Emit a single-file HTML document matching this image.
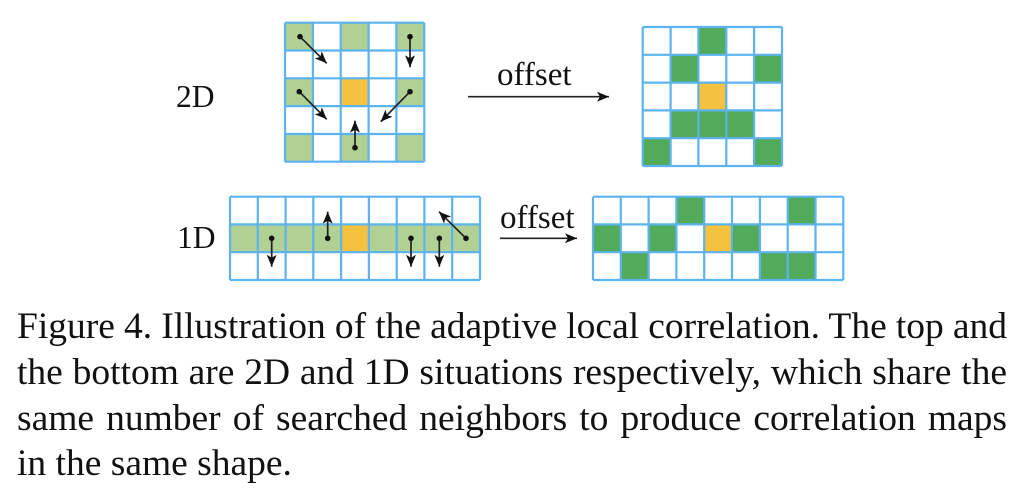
<!DOCTYPE html>
<html><head><meta charset="utf-8"><style>
html,body{margin:0;padding:0;background:#fff;width:1024px;height:493px;overflow:hidden}
svg{display:block;position:absolute;left:0;top:0}
text{font-family:"Liberation Serif",serif;fill:#111}
.c{position:absolute;left:17px;width:990px;font:37.5px/46px "Liberation Serif",serif;color:#111;text-align:justify;text-align-last:justify;word-spacing:-2px}
</style></head><body>
<svg width="1024" height="493" viewBox="0 0 1024 493" xmlns="http://www.w3.org/2000/svg">
<defs>
<marker id="a" viewBox="0 0 12 10" refX="12" refY="5" markerWidth="12" markerHeight="10" markerUnits="userSpaceOnUse" orient="auto"><path d="M0 0L12 5L0 10L3 5Z" fill="#111"/></marker>
</defs>
<g fill="#b0d094">
<rect x="285" y="22.7" width="27.9" height="27.8"/><rect x="340.7" y="22.7" width="27.9" height="27.8"/><rect x="396.4" y="22.7" width="27.9" height="27.8"/>
<rect x="285" y="78.3" width="27.9" height="27.8"/><rect x="396.4" y="78.3" width="27.9" height="27.8"/>
<rect x="285" y="134" width="27.9" height="27.8"/><rect x="340.7" y="134" width="27.9" height="27.8"/><rect x="396.4" y="134" width="27.9" height="27.8"/>
<rect x="230" y="224.4" width="250" height="27.8"/>
</g>
<g fill="#52ab5b">
<rect x="698.4" y="27" width="27.9" height="27.8"/>
<rect x="670.6" y="54.8" width="27.9" height="27.8"/><rect x="754.1" y="54.8" width="27.9" height="27.8"/>
<rect x="670.6" y="110.4" width="83.5" height="27.8"/>
<rect x="642.7" y="138.2" width="27.9" height="27.8"/><rect x="754.1" y="138.2" width="27.9" height="27.8"/>
<rect x="676.4" y="196.7" width="27.8" height="27.7"/><rect x="787.7" y="196.7" width="27.8" height="27.7"/>
<rect x="593" y="224.4" width="27.8" height="27.8"/><rect x="648.6" y="224.4" width="27.8" height="27.8"/><rect x="732" y="224.4" width="27.9" height="27.8"/>
<rect x="620.8" y="252.2" width="27.8" height="27.8"/><rect x="759.9" y="252.2" width="55.6" height="27.8"/>
</g>
<g fill="#f4c23f">
<rect x="340.7" y="78.3" width="27.9" height="27.8"/>
<rect x="698.4" y="82.6" width="27.9" height="27.8"/>
<rect x="341.1" y="224.4" width="27.8" height="27.8"/>
<rect x="704.2" y="224.4" width="27.8" height="27.8"/>
</g>
<g fill="none" stroke="#5cb3ee" stroke-width="2.2">
<path d="M285 22.7H424.3M285 50.5H424.3M285 78.3H424.3M285 106.1H424.3M285 134H424.3M285 161.7H424.3M285 22.7V161.7M312.9 22.7V161.7M340.7 22.7V161.7M368.6 22.7V161.7M396.4 22.7V161.7M424.3 22.7V161.7"/>
<path d="M642.7 27H782M642.7 54.8H782M642.7 82.6H782M642.7 110.4H782M642.7 138.2H782M642.7 166H782M642.7 27V166M670.6 27V166M698.4 27V166M726.3 27V166M754.1 27V166M782 27V166"/>
<path d="M230 196.7H480M230 224.4H480M230 252.2H480M230 280H480M230 196.7V280M257.8 196.7V280M285.6 196.7V280M313.3 196.7V280M341.1 196.7V280M368.9 196.7V280M396.7 196.7V280M424.4 196.7V280M452.2 196.7V280M480 196.7V280"/>
<path d="M593 196.7H843.3M593 224.4H843.3M593 252.2H843.3M593 280H843.3M593 196.7V280M620.8 196.7V280M648.6 196.7V280M676.4 196.7V280M704.2 196.7V280M732 196.7V280M759.9 196.7V280M787.7 196.7V280M815.5 196.7V280M843.3 196.7V280"/>
</g>
<g stroke="#222" stroke-width="1.7" fill="none">
<line x1="300" y1="36.7" x2="326.7" y2="63.3" marker-end="url(#a)"/>
<line x1="410" y1="36.7" x2="410" y2="67.3" marker-end="url(#a)"/>
<line x1="299.3" y1="91.7" x2="326.7" y2="119.3" marker-end="url(#a)"/>
<line x1="410" y1="91.7" x2="380.7" y2="121.7" marker-end="url(#a)"/>
<line x1="355" y1="147.7" x2="355" y2="120.7" marker-end="url(#a)"/>
<line x1="271.7" y1="238.3" x2="271.7" y2="266.7" marker-end="url(#a)"/>
<line x1="327.7" y1="238.3" x2="327.7" y2="211.7" marker-end="url(#a)"/>
<line x1="411" y1="238.3" x2="411" y2="266.7" marker-end="url(#a)"/>
<line x1="439.3" y1="238.3" x2="439.3" y2="266.7" marker-end="url(#a)"/>
<line x1="466" y1="238.3" x2="439" y2="211.7" marker-end="url(#a)"/>
<line x1="468" y1="96.7" x2="609" y2="96.7" marker-end="url(#a)"/>
<line x1="500" y1="238.3" x2="577" y2="238.3" marker-end="url(#a)"/>
</g>
<g fill="#111">
<circle cx="300" cy="36.7" r="2.8"/><circle cx="410" cy="36.7" r="2.8"/><circle cx="299.3" cy="91.7" r="2.8"/><circle cx="410" cy="91.7" r="2.8"/><circle cx="355" cy="147.7" r="2.8"/>
<circle cx="271.7" cy="238.3" r="2.8"/><circle cx="327.7" cy="238.3" r="2.8"/><circle cx="411" cy="238.3" r="2.8"/><circle cx="439.3" cy="238.3" r="2.8"/><circle cx="466" cy="238.3" r="2.8"/>
</g>
<text x="497" y="85" font-size="33">offset</text>
<text x="500" y="228" font-size="33">offset</text>
<text x="176" y="107" font-size="31.5">2D</text>
<text x="177" y="248" font-size="31.5">1D</text>
</svg>
<div class="c" style="top:304.3px">Figure 4. Illustration of the adaptive local correlation. The top and</div>
<div class="c" style="top:350px">the bottom are 2D and 1D situations respectively, which share the</div>
<div class="c" style="top:395.7px">same number of searched neighbors to produce correlation maps</div>
<div class="c" style="top:441.3px;text-align-last:left;word-spacing:0">in the same shape.</div>
</body></html>
